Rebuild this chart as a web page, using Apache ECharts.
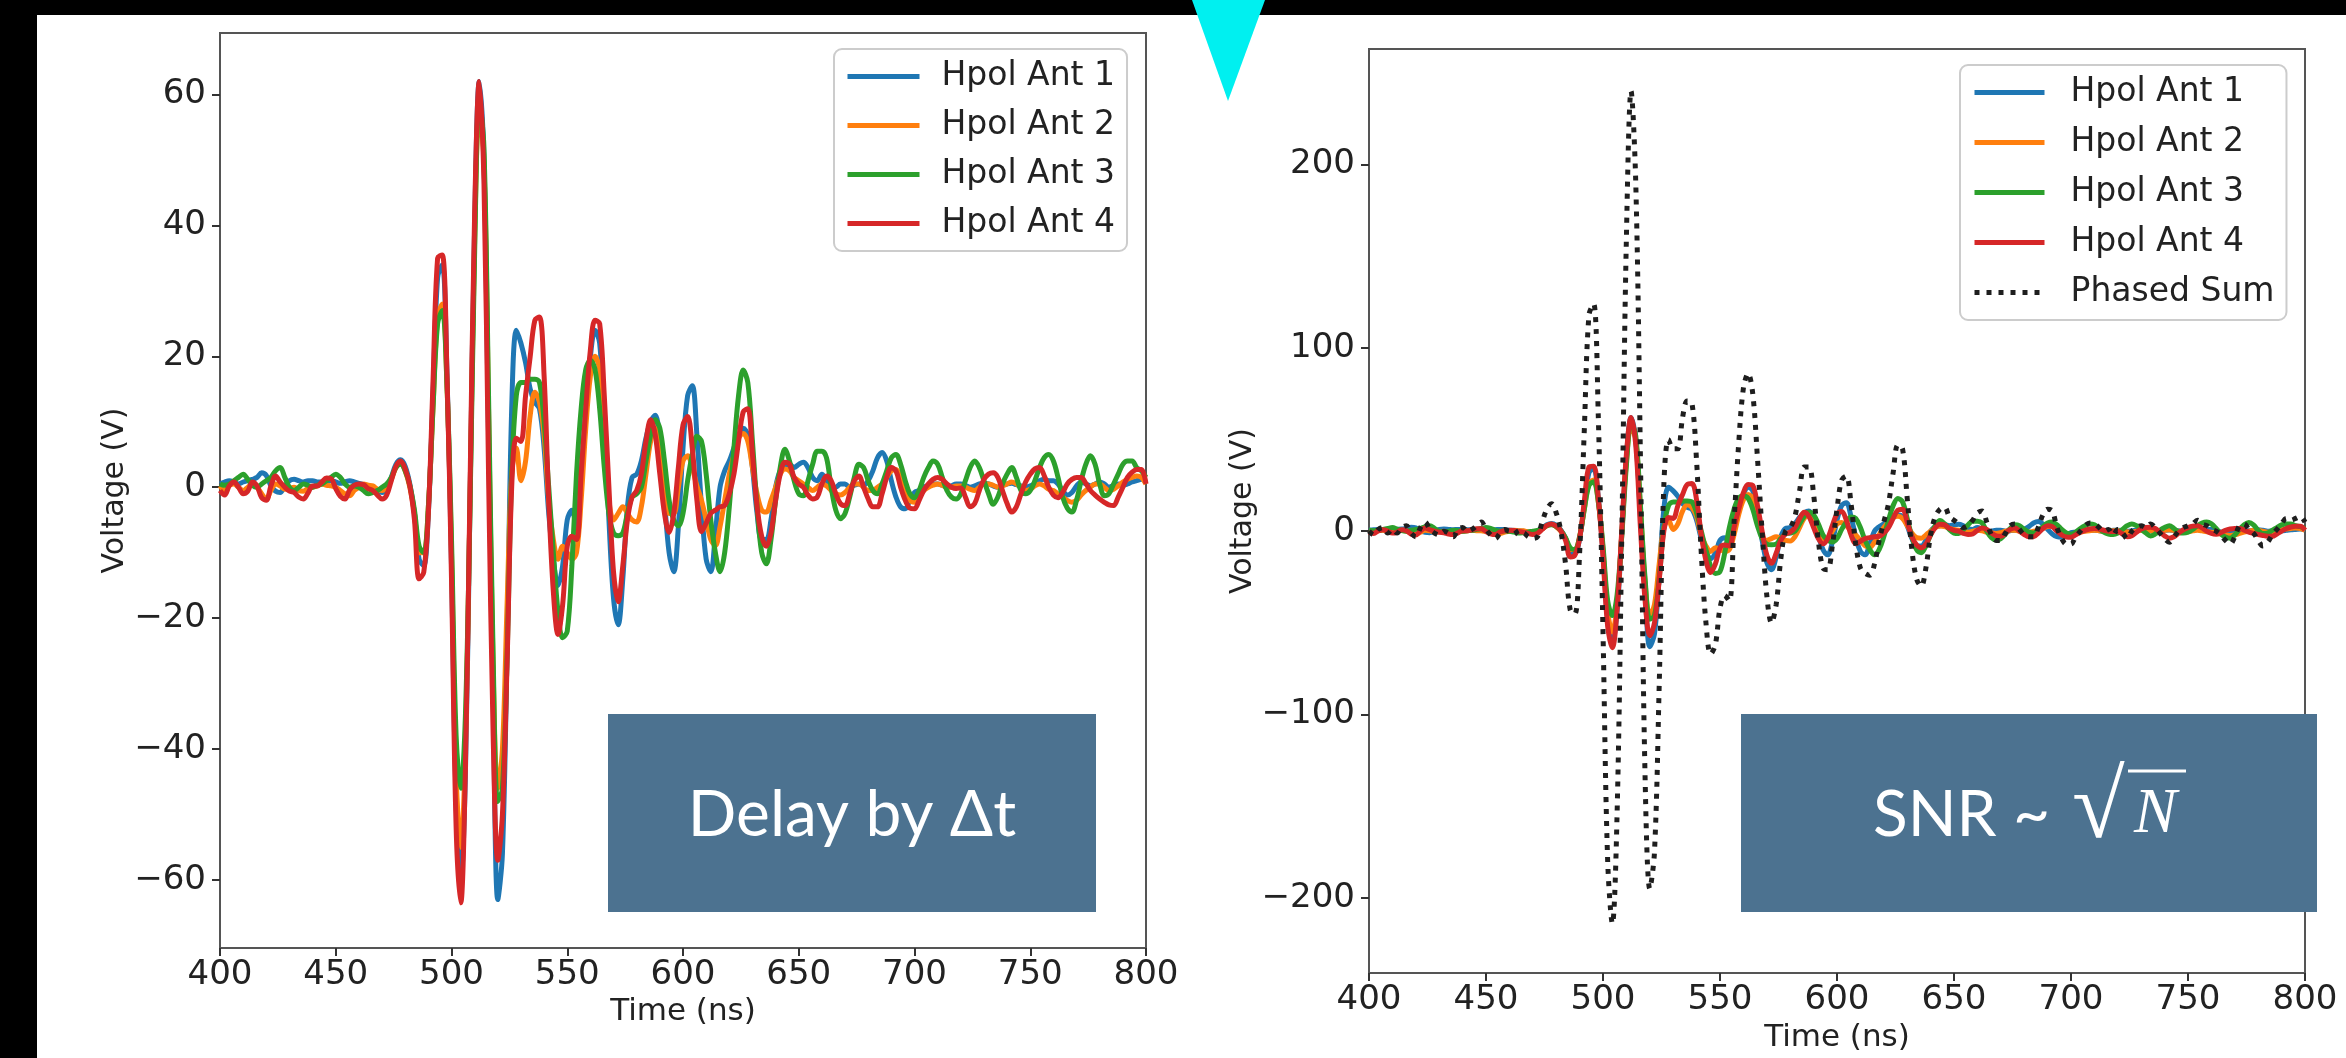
<!DOCTYPE html>
<html>
<head>
<meta charset="utf-8">
<script src="https://cdn.jsdelivr.net/npm/echarts@6/dist/echarts.min.js"></script>
<style>
html,body{margin:0;padding:0;background:#000;width:2346px;height:1058px;overflow:hidden;}
#bg{position:absolute;left:37px;top:15px;width:2309px;height:1043px;background:#fff;}
#chart{position:absolute;left:0;top:0;width:2346px;height:1058px;}
</style>
</head>
<body>
<div id="bg"></div>
<div id="chart"></div>
<script>
// ---- time grid (ns) ----
const timeNs = [
400,402,404,406,408,410,412,414,416,418,
420,422,424,426,428,430,432,434,436,438,
440,442,444,446,448,450,452,454,456,458,
460,462,464,466,468,470,472,474,476,478,
480,482,484,486,488,490,492,494,496,498,
500,502,504,506,508,510,512,514,516,518,
520,522,524,526,528,530,532,534,536,538,
540,542,544,546,548,550,552,554,556,558,
560,562,564,566,568,570,572,574,576,578,
580,582,584,586,588,590,592,594,596,598,
600,602,604,606,608,610,612,614,616,618,
620,622,624,626,628,630,632,634,636,638,
640,642,644,646,648,650,652,654,656,658,
660,662,664,666,668,670,672,674,676,678,
680,682,684,686,688,690,692,694,696,698,
700,702,704,706,708,710,712,714,716,718,
720,722,724,726,728,730,732,734,736,738,
740,742,744,746,748,750,752,754,756,758,
760,762,764,766,768,770,772,774,776,778,
780,782,784,786,788,790,792,794,796,798,
800];

// ---- Hpol Ant 1 (V) ----
const ant1 = [
0.5,0.8,1.0,0.8,0.5,0.8,1.0,1.2,1.5,2.2,
1.8,0.2,-0.6,-0.8,0.2,1.0,1.2,1.0,0.8,1.0,
1.0,0.8,0.8,1.0,1.0,0.8,0.6,0.8,1.0,0.8,
0.6,0.4,0.2,0.0,-0.5,-0.8,-0.3,1.5,3.5,4.2,
3.2,0.5,-4,-11,-12,-4,14,32,34,18,
-12,-48,-60,-44,-2,40,62,50,8,-32,
-63,-56,-25,12,24,22,19,15,13,12,
6,-4,-11,-15,-12,-5,-3.5,-6,2,12,
20,24,22,10,-5,-17,-21,-14,-3,1.5,
2,4,7.5,10,11,7,-2,-10,-12.9,-6,
6,14,15.5,8,-3,-11,-12.9,-7,0,2.5,
4,6,8,9,8,3,-4,-8,-8,-5,
0,2.5,3,3.5,3,3.5,3.8,3,1.5,1,
2,1,0,0,0.5,0.5,0,0.3,0.5,0.3,
1,2.5,4.5,5.3,4,1,-1.5,-3,-3.3,-2,
-0.8,-0.5,0,0.3,0.5,0.5,0.3,0,0.2,0.5,
0.5,0.3,0,0.2,0.5,0.6,0.5,0.2,0,0.3,
0.5,0.6,0.4,0.2,0,0.2,0.5,1.0,1.2,1.0,
1.0,0.5,-0.5,-1.2,-0.8,0.2,0.8,0.5,0.2,0.5,
0.8,0.5,0,0.3,0.5,0.3,0.5,0.8,1.0,1.2,
0.8];

// ---- Hpol Ant 2 (V) ----
const ant2 = [
0.2,-0.5,0.3,0.5,0,-0.5,0,0.5,0,-1,
-1.8,-0.5,0.5,0.2,-0.3,-0.2,0,-0.5,-0.6,-0.2,
0,0.2,0.5,0.3,0.2,0,-0.5,-1,-1.3,-0.5,
0,0.5,0.3,0.2,-0.3,-0.5,0,1.2,3,3.8,
2.5,0,-4,-10,-10,-3,12,26,28,16,
-10,-44,-55,-40,-2,38,57,50,12,-28,
-46,-40,-18,2,6,1,4,11,14.5,13,
8,-2,-8,-11,-9,-10,-11,-10,-2,9,
17,20,18,8,-2,-5,-4,-3,-4,-5,
-5.3,-3,2,7,9,6,0,-4,-4,0,
4,4.8,3,0.2,-2,-5,-8,-8.9,-6,-2,
2,5,7.5,8.2,7,3,-1,-3.5,-3.8,-2,
0,2,2.8,2.5,1.5,1,0.5,0,-0.5,0,
0.5,0.2,-0.5,-1,-1.2,-0.8,0,0.5,0.5,0,
-0.5,-0.5,0,0.5,1.5,2.5,2.7,1.5,-0.5,-2,
-2.3,-1.5,-0.5,0,0.3,0.5,0.3,0,0,0.2,
0.2,0,-0.3,-0.5,0,0.5,0.5,0.3,0,0.2,
0.5,0.8,0.5,0,-0.5,-0.3,0.2,0.5,0.2,-0.3,
-0.5,-1,-1.5,-2,-2.3,-2,-1.2,-0.5,0,0.5,
0.5,0,-0.5,-0.3,0.2,0.8,1.2,1.5,1.7,1.5,
0.5];

// ---- Hpol Ant 3 (V) ----
const ant3 = [
0.5,0.3,0.5,1,1.5,2,1.2,0.3,0,0.5,
1,1.5,2.5,3,1.5,0,-0.5,0,0.5,0.3,
0,0.3,0.5,1,1.5,2,1.5,0.5,0,0.2,
0,-0.5,-1,-0.8,-0.5,0,0.5,1.5,3,3.5,
2.5,0.3,-3.5,-9,-10,-3,12,25,27,16,
-8,-38,-46,-35,-3,36,59,52,14,-26,
-48,-46,-26,2,14,16,16,16.5,16.5,16,
10,0,-10,-19,-23,-22,-12,2,12,18,
19.4,18,12,3,-4,-7,-7.4,-7,-4,-1.5,
-1,0,4,8,10.3,9,4,-2,-5,-5.9,
-4,1,5,7.8,7,2,-5,-10,-12.9,-10,
-3,6,14,17.9,16,7,-3,-10,-11.7,-8,
-2,3,5.8,4,1,-1,-1.3,1,3.5,5.5,
5.5,4.5,0,-3.5,-4.8,-4,-1.5,1.5,3.5,3,
1,-0.5,-1,0.5,2.5,4.5,5,3.5,1,-1,
-1.6,-0.5,1.5,3,4,3.5,1.5,-0.5,-1.5,-1.8,
-1,1,3,4,3,1,-1,-2.6,-1.5,0.5,
2,3,1.5,-0.5,-1,-0.5,1,3,4.5,5,
4,1.5,-1.5,-3.2,-3.8,-2,1,3.5,4.8,3.5,
0.5,-1.3,-1,0.5,2,3.5,4,4,3,2.5,
1.5];

// ---- Hpol Ant 4 (V) ----
const ant4 = [
-0.5,-1.2,0.2,0.8,0.0,-1.0,-0.6,0.8,0.2,-1.6,
-2.0,0.2,1.7,0.8,0.0,-0.6,-0.8,-1.5,-1.8,-0.9,
0.2,0.2,0.8,1.4,1.3,-0.2,-1.4,-1.8,-0.4,0.3,
0.5,0.4,-0.2,-0.5,-1.2,-1.8,-1.2,1.0,3.2,4.0,
2.8,0.2,-5,-14,-13,-4,16,35,35.5,18,
-14,-52,-63.5,-43,0,42,62,47,2,-38,
-57,-50,-27,0,7.5,7,14,20,25.5,26,
17,-2,-16,-22.5,-18,-9,-7.5,-8,2,12,
21,25.5,25,14,0,-13,-17.5,-12,-5,-1.5,
-0.5,2,7,10.3,8,2,-4,-6.9,-4,3,
9.5,10.8,6,-2,-6.8,-5.5,-4,-3.5,-3,-2.8,
-1,2,7,11.5,12,5,-3,-7.5,-9,-7,
-2,2,3.8,3.5,1.5,0.5,0,-1.2,-1.8,-1.5,
0.5,1.7,1,-1,-2.5,-2.8,-1,1,1.7,0,
-1.8,-3,-3,-1,1.5,3,2.5,0,-2,-3.2,
-3.3,-2,-0.5,0.5,1.2,1.5,1.2,0.5,0,-0.2,
-0.1,-1.5,-3,-2.5,-0.5,1.2,2,2.2,1.5,-0.5,
-2.5,-3.8,-3,-1,0.8,2,2.8,3,1.8,0,
-1.2,-1.6,-0.8,0.5,1.2,1.5,1.5,0.6,-0.5,-1.2,
-1.8,-2.3,-2.7,-2.8,-1.5,0,1.5,2.3,2.7,2.7,
0.5];

// ---- Phased Sum (V) ----
const phasedSum = [
0,-2,1,2,-1,1,-1,2,3,-1,
-3,2,5,1,-1,-2,0,-1,-3,1,
2,0,1,3,5,1,-2,-4,-1,1,
0,1,-2,-1,-3,-4,-3,5,12,15,
10,0,-18,-43,-45,-12,55,118,124,62,
-55,-180,-214,-155,-5,160,240,190,40,-135,
-195,-175,-85,25,50,45,45,62,71,70,
38,-12,-50,-67,-62,-42,-35,-38,5,48,
78,86,75,40,0,-35,-50,-40,-15,0,
2,8,22,35,35,20,-5,-20,-21,-8,
12,28,30,15,-7,-20,-23,-24,-18,-5,
5,15,32,47,45,18,-10,-26,-30,-20,
-2,8,12,13,8,6,4,2,3,6,
10,11,5,-2,-5,-5,-1,3,4,1,
-2,-3,-3,2,9,12,11,2,-4,-7,
-7,-3,0,3,4.5,4,2,0,1,-2,
1,-1,-4,0,2,3,2,4,2,-1,
-4,-6,-3,0,2,3,4,6,4,3,
1,0,-2,-5,-7,-3,3,4,1,-1,
-5,-8,-6,-2,1,4,7,6,7,8,
5];

// ---- labels / ticks ----
const antNames = ['Hpol Ant 1','Hpol Ant 2','Hpol Ant 3','Hpol Ant 4'];
const sumName = 'Phased Sum';
const antColors = ['#1f77b4','#ff7f0e','#2ca02c','#d62728'];
const leftTicks = [-60,-40,-20,0,20,40,60];
const rightTicks = [-200,-100,0,100,200];
const xLabelTitle = 'Time (ns)';
const yLabelTitle = 'Voltage (V)';

const FONT = 'DejaVu Sans';
const DOT = [5, 7];
const fmt = v => (v < 0 ? '\u2212' + Math.abs(v) : String(v));
const pairs = arr => timeNs.map((t, i) => [t, arr[i]]);

function xAxisCfg(gi) {
  return {
    type: 'value', gridIndex: gi, min: 400, max: 800, interval: 50,
    name: xLabelTitle, nameLocation: 'middle', nameGap: 41,
    nameTextStyle: {fontFamily: FONT, fontSize: 31, color: '#222'},
    axisLine: {show: true, onZero: false, lineStyle: {color: '#555', width: 2}},
    axisTick: {show: true, length: 8, lineStyle: {color: '#333', width: 2}},
    axisLabel: {fontFamily: FONT, fontSize: 34, color: '#222', margin: 10},
    splitLine: {show: false}
  };
}
function yAxisCfg(gi, min, max, ticks, gap) {
  return {
    type: 'value', gridIndex: gi, min: min, max: max,
    name: yLabelTitle, nameLocation: 'middle', nameGap: gap, nameRotate: 90,
    nameTextStyle: {fontFamily: FONT, fontSize: 30, color: '#222'},
    axisLine: {show: true, onZero: false, lineStyle: {color: '#555', width: 2}},
    axisTick: {show: true, length: 8, customValues: ticks, lineStyle: {color: '#333', width: 2}},
    axisLabel: {fontFamily: FONT, fontSize: 34, color: '#222', margin: 14, customValues: ticks, formatter: fmt},
    splitLine: {show: false}
  };
}

const series = [];
const antData = [ant1, ant2, ant3, ant4];
for (let g = 0; g < 2; g++) {
  antData.forEach((arr, k) => {
    series.push({
      name: antNames[k], type: 'line', xAxisIndex: g, yAxisIndex: g,
      data: pairs(arr), symbol: 'none', smooth: 0.35,
      lineStyle: {color: antColors[k], width: 5}, itemStyle: {color: antColors[k]},
      z: 2 + k, silent: true
    });
  });
}
series.push({
  name: sumName, type: 'line', xAxisIndex: 1, yAxisIndex: 1,
  data: pairs(phasedSum), symbol: 'none', smooth: 0.35,
  lineStyle: {color: '#1e1e1e', width: 5, type: DOT, cap: 'butt'},
  itemStyle: {color: '#1e1e1e'}, z: 10, silent: true
});

const legendItems = names => names.map(n => (n === sumName
  ? {name: n, lineStyle: {width: 5, type: DOT, color: '#1e1e1e'}}
  : {name: n}));

const legendBase = {
  orient: 'vertical', itemHeight: 30,
  borderColor: '#cccccc', borderWidth: 2, borderRadius: 8,
  backgroundColor: 'rgba(255,255,255,0.85)',
  itemStyle: {opacity: 0, borderWidth: 0},
  lineStyle: {width: 5},
  selectedMode: false
};

const chart = echarts.init(document.getElementById('chart'), null, {renderer: 'canvas'});
chart.setOption({
  backgroundColor: 'transparent',
  animation: false,
  grid: [
    {left: 220, top: 33, width: 926, height: 915, show: true, borderColor: '#555', borderWidth: 2, backgroundColor: 'transparent'},
    {left: 1369, top: 49, width: 936, height: 929, show: true, borderColor: '#555', borderWidth: 2, backgroundColor: 'transparent'}
  ],
  xAxis: [xAxisCfg(0), xAxisCfg(1)],
  yAxis: [yAxisCfg(0, -70.4, 69.4, leftTicks, 86), yAxisCfg(1, -241, 263, rightTicks, 110)],
  legend: [
    Object.assign({}, legendBase, {data: legendItems(antNames), left: 834, top: 49, itemWidth: 72, itemGap: 16,
      padding: [11, 12, 11, 11],
      textStyle: {fontFamily: FONT, fontSize: 33, color: '#222', padding: [0, 0, 0, 17]}}),
    Object.assign({}, legendBase, {data: legendItems(antNames.concat([sumName])), left: 1960, top: 65, itemWidth: 70, itemGap: 17,
      padding: [11, 12, 11, 12],
      textStyle: {fontFamily: FONT, fontSize: 33, color: '#222', padding: [0, 0, 0, 21]}})
  ],
  series: series,
  graphic: [
    {type: 'polygon', z: 200, shape: {points: [[1192, 0], [1265, 0], [1228, 101]]}, style: {fill: '#00f0f0'}},
    {type: 'rect', z: 100, shape: {x: 608, y: 714, width: 488, height: 198}, style: {fill: '#4c7290'}},
    {type: 'text', z: 101, x: 852, y: 815, style: {text: 'Delay by \u0394t', font: '64px Lato', fill: '#ffffff', align: 'center', verticalAlign: 'middle'}},
    {type: 'rect', z: 100, shape: {x: 1741, y: 714, width: 576, height: 198}, style: {fill: '#4c7290'}},
    {type: 'text', z: 101, x: 1873, y: 815, style: {text: 'SNR ~', font: '64px Lato', fill: '#ffffff', align: 'left', verticalAlign: 'middle'}},
    {type: 'text', z: 101, x: 2072, y: 812, style: {text: '\u221A', font: '96px "Liberation Serif"', fill: '#ffffff', align: 'left', verticalAlign: 'middle'}},
    {type: 'line', z: 101, shape: {x1: 2128, y1: 771, x2: 2186, y2: 771}, style: {stroke: '#ffffff', lineWidth: 3}},
    {type: 'text', z: 101, x: 2134, y: 815, style: {text: 'N', font: 'italic 64px "Liberation Serif"', fill: '#ffffff', align: 'left', verticalAlign: 'middle'}}
  ]
});
</script>
</body>
</html>
